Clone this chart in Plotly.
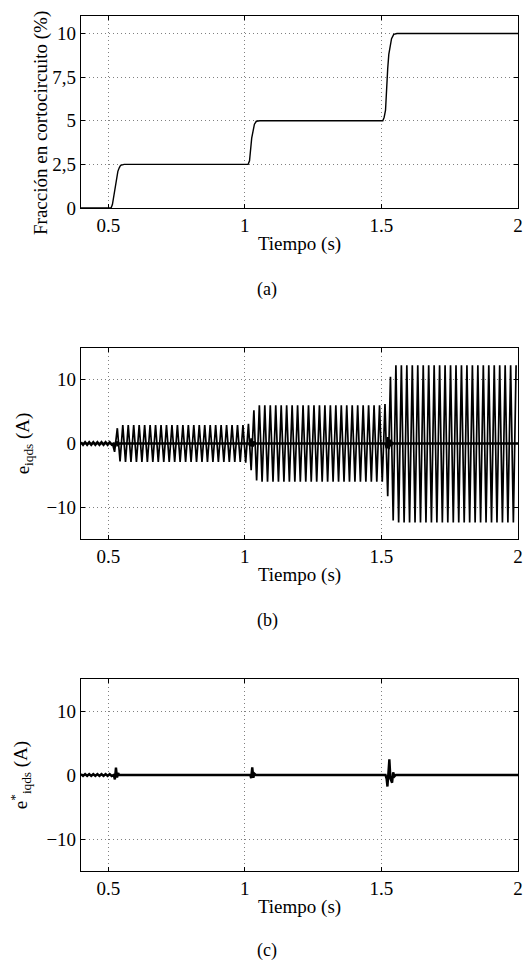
import plotly.graph_objects as go

# ---------------- data ----------------
# (a) short-circuit fraction (%)
frac_t = [0.4, 0.51, 0.515, 0.52, 0.525, 0.53, 0.535, 0.54, 0.545, 0.558,
          1.012, 1.017, 1.021, 1.025, 1.03, 1.035, 1.042, 1.055,
          1.505, 1.51, 1.515, 1.519, 1.523, 1.527, 1.532, 1.537, 1.545, 1.557, 2.0]
frac_v = [0, 0, 0.2, 0.7, 1.3, 1.7, 2.1, 2.3, 2.45, 2.5,
          2.5, 2.7, 3.4, 4.0, 4.4, 4.8, 4.97, 5.0,
          5.0, 5.2, 5.6, 7.0, 8.0, 8.8, 9.4, 9.7, 9.95, 10.0, 10.0]

# (b) e_iqds : extrema of the oscillating current (A)
osc_t = [0.4, 0.515,
         0.523, 0.533, 0.543, 0.553, 0.563, 0.573, 0.583, 0.593, 0.603, 0.613,
         0.623, 0.633, 0.643, 0.653, 0.663, 0.673, 0.683, 0.693, 0.703, 0.713,
         0.723, 0.733, 0.743, 0.753, 0.763, 0.773, 0.783, 0.793, 0.803, 0.813,
         0.823, 0.833, 0.843, 0.853, 0.863, 0.873, 0.883, 0.893, 0.903, 0.913,
         0.923, 0.933, 0.943, 0.953, 0.963, 0.973, 0.983, 0.993, 1.003, 1.013,
         1.023, 1.033, 1.043, 1.053, 1.063, 1.073, 1.083, 1.093, 1.103, 1.113,
         1.123, 1.133, 1.143, 1.153, 1.163, 1.173, 1.183, 1.193, 1.203, 1.213,
         1.223, 1.233, 1.243, 1.253, 1.263, 1.273, 1.283, 1.293, 1.303, 1.313,
         1.323, 1.333, 1.343, 1.353, 1.363, 1.373, 1.383, 1.393, 1.403, 1.413,
         1.423, 1.433, 1.443, 1.453, 1.463, 1.473, 1.483, 1.493, 1.503, 1.513,
         1.523, 1.533, 1.543, 1.553, 1.563, 1.573, 1.583, 1.593, 1.603, 1.613,
         1.623, 1.633, 1.643, 1.653, 1.663, 1.673, 1.683, 1.693, 1.703, 1.713,
         1.723, 1.733, 1.743, 1.753, 1.763, 1.773, 1.783, 1.793, 1.803, 1.813,
         1.823, 1.833, 1.843, 1.853, 1.863, 1.873, 1.883, 1.893, 1.903, 1.913,
         1.923, 1.933, 1.943, 1.953, 1.963, 1.973, 1.983, 1.993]
osc_v = [0, 0,
         -1.3, 2.4, -2.8, 2.9, -2.9, 2.9, -2.9, 2.9, -2.9, 2.9,
         -2.9, 2.9, -2.9, 2.9, -2.9, 2.9, -2.9, 2.9, -2.9, 2.9,
         -2.9, 2.9, -2.9, 2.9, -2.9, 2.9, -2.9, 2.9, -2.9, 2.9,
         -2.9, 2.9, -2.9, 2.9, -2.9, 2.9, -2.9, 2.9, -2.9, 2.9,
         -2.9, 2.9, -2.9, 2.9, -2.9, 2.9, -2.9, 2.9, -3.0, 3.1,
         -4.2, 5.2, -5.8, 6.0, -6.0, 6.0, -6.0, 6.0, -6.0, 6.0,
         -6.0, 6.0, -6.0, 6.0, -6.0, 6.0, -6.0, 6.0, -6.0, 6.0,
         -6.0, 6.0, -6.0, 6.0, -6.0, 6.0, -6.0, 6.0, -6.0, 6.0,
         -6.0, 6.0, -6.0, 6.0, -6.0, 6.0, -6.0, 6.0, -6.0, 6.0,
         -6.0, 6.0, -6.0, 6.0, -6.0, 6.0, -6.0, 6.0, -6.0, 6.2,
         -8.3, 10.5, -12.1, 12.3, -12.4, 12.3, -12.4, 12.3, -12.4, 12.3,
         -12.4, 12.3, -12.4, 12.3, -12.4, 12.3, -12.4, 12.3, -12.4, 12.3,
         -12.4, 12.3, -12.4, 12.3, -12.4, 12.3, -12.4, 12.3, -12.4, 12.3,
         -12.4, 12.3, -12.4, 12.3, -12.4, 12.3, -12.4, 12.3, -12.4, 12.3,
         -12.4, 12.3, -12.4, 12.3, -12.4, 12.3, -12.4, 12.3]

# (b) near-zero component (A)
zero_t = [0.4, 0.4075, 0.415, 0.4225, 0.43, 0.4375, 0.445, 0.4525, 0.46, 0.4675,
          0.475, 0.4825, 0.49, 0.4975, 0.505, 0.5125, 0.52, 0.525, 0.53, 0.535, 0.54,
          1.015, 1.02, 1.024, 1.028, 1.032, 1.036, 1.04,
          1.515, 1.519, 1.523, 1.527, 1.531, 1.535, 1.54, 1.545, 2.0]
zero_v = [0.2, -0.2, 0.2, -0.2, 0.2, -0.2, 0.2, -0.2, 0.2, -0.2,
          0.2, -0.2, 0.2, -0.2, 0.2, -0.2, 0, -0.5, 0.3, -0.2, 0,
          0, -0.4, 0.8, -0.5, 0.3, -0.1, 0,
          0, -0.7, 1.0, -0.9, 0.6, -0.4, 0.1, 0, 0]

# (c) e*_iqds (A)
est_t = [0.4, 0.4075, 0.415, 0.4225, 0.43, 0.4375, 0.445, 0.4525, 0.46, 0.4675,
         0.475, 0.4825, 0.49, 0.4975, 0.505, 0.5125, 0.52, 0.524, 0.528, 0.532, 0.536, 0.54,
         1.02, 1.023, 1.027, 1.031, 1.035, 1.04,
         1.515, 1.519, 1.522, 1.526, 1.529, 1.533, 1.539, 1.543, 1.548, 1.553, 2.0]
est_v = [0.15, -0.15, 0.15, -0.15, 0.15, -0.15, 0.15, -0.15, 0.15, -0.15,
         0.15, -0.15, 0.15, -0.15, 0.15, -0.15, 0, -0.7, 1.15, -0.4, 0.3, 0,
         0, -0.5, 1.2, -0.4, 0.2, 0,
         0, -0.6, -1.8, 0.5, 2.45, -0.6, -1.2, 0.4, -0.2, 0, 0]

x_ticks = [0.5, 1, 1.5, 2]
x_ticktext = ["0.5", "1", "1.5", "2"]
ya_ticks = [0, 2.5, 5, 7.5, 10]
ya_ticktext = ["0", "2,5", "5", "7,5", "10"]
yb_ticks = [-10, 0, 10]
yb_ticktext = ["\u221210", "0", "10"]

# ---------------- figure ----------------
W, H = 526, 965
FONT = "Times New Roman, Liberation Serif, DejaVu Serif, serif"

fig = go.Figure()
fig.add_trace(go.Scatter(x=frac_t, y=frac_v, xaxis="x", yaxis="y", mode="lines",
                         line=dict(color="black", width=1.4)))
fig.add_trace(go.Scatter(x=osc_t, y=osc_v, xaxis="x2", yaxis="y2", mode="lines",
                         line=dict(color="black", width=1.7)))
fig.add_trace(go.Scatter(x=zero_t, y=zero_v, xaxis="x2", yaxis="y2", mode="lines",
                         line=dict(color="black", width=2.4)))
fig.add_trace(go.Scatter(x=est_t, y=est_v, xaxis="x3", yaxis="y3", mode="lines",
                         line=dict(color="black", width=2.4)))

common = dict(showline=True, linecolor="black", linewidth=1.2, mirror="ticks",
              ticks="inside", ticklen=4, tickcolor="black",
              showgrid=True, gridcolor="#808080", griddash="1px,3px", gridwidth=1,
              zeroline=False, automargin=False,
              tickfont=dict(family=FONT, size=19, color="black"))

xdom = [81 / W, 518 / W]
doms = [(16, 208), (348, 539), (679, 871)]


def ydom(top, bot):
    return [1 - bot / H, 1 - top / H]


xa = dict(common, range=[0.4, 2], tickvals=x_ticks, ticktext=x_ticktext, domain=xdom,
          title=dict(text="Tiempo (s)", font=dict(family=FONT, size=19, color="black"), standoff=1))

layout = dict(
    width=W, height=H, showlegend=False,
    paper_bgcolor="white", plot_bgcolor="white",
    margin=dict(l=0, r=0, t=0, b=0),
    xaxis=dict(xa, anchor="y"),
    xaxis2=dict(xa, anchor="y2"),
    xaxis3=dict(xa, anchor="y3"),
    yaxis=dict(common, range=[0, 11], tickvals=ya_ticks, ticktext=ya_ticktext,
               domain=ydom(*doms[0]), anchor="x"),
    yaxis2=dict(common, range=[-15, 15], tickvals=yb_ticks, ticktext=yb_ticktext,
                domain=ydom(*doms[1]), anchor="x2",
                title=dict(text="e<sub>iqds</sub> (A)",
                           font=dict(family=FONT, size=19, color="black"), standoff=11)),
    yaxis3=dict(common, range=[-15, 15], tickvals=yb_ticks, ticktext=yb_ticktext,
                domain=ydom(*doms[2]), anchor="x3",
                title=dict(text="e<sup>*</sup><sub>iqds</sub> (A)",
                           font=dict(family=FONT, size=19, color="black"), standoff=13)),
)
fig.update_layout(**layout)

# y-axis title of panel (a), placed as in the reference (slightly below centre)
fig.add_annotation(text="Fracción en cortocircuito (%)", textangle=-90,
                   x=41 / W, y=1 - 123 / H, xref="paper", yref="paper",
                   xanchor="center", yanchor="middle", showarrow=False,
                   font=dict(family=FONT, size=19, color="black"))

for lab, yc in [("(a)", 290), ("(b)", 620), ("(c)", 950)]:
    fig.add_annotation(text=lab, x=267 / W, y=1 - yc / H, xref="paper", yref="paper",
                       xanchor="center", yanchor="middle", showarrow=False,
                       font=dict(family=FONT, size=18, color="black"))

fig.write_html("out.html", config={"displayModeBar": False},
               post_script="document.body.style.margin='0';document.body.style.overflow='hidden';")
